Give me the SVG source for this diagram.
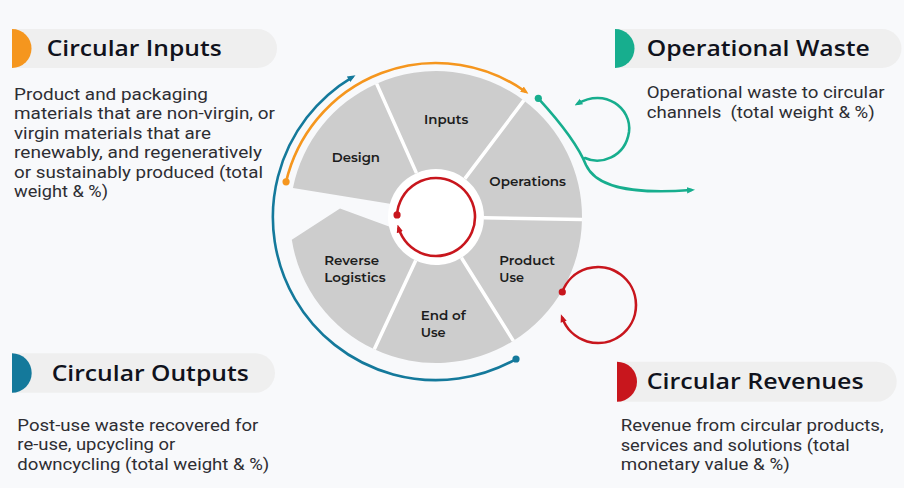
<svg xmlns="http://www.w3.org/2000/svg" width="904" height="488" viewBox="0 0 904 488">
<style>
.bg{fill:#f8f9fb}
.pill{fill:#efefef}
.hd{font-family:"Open Sans","Liberation Sans",sans-serif;font-weight:600;font-size:21px;fill:#10121c}
.bd{font-family:Roboto,"Open Sans","Liberation Sans",sans-serif;font-weight:400;font-size:16.5px;fill:#2e2e33}
.seg{fill:#cdcdcd}
.lb{font-family:"Montserrat","Open Sans","Liberation Sans",sans-serif;font-weight:600;font-size:13.5px;fill:#1c1c1c}
.gap{stroke:#ffffff;stroke-width:3.5;fill:none}
.arc{fill:none;stroke-width:2.6;stroke-linecap:round}
</style>
<defs>
<marker id="mO" viewBox="0 0 10 10" refX="5" refY="5" markerWidth="8" markerHeight="8" orient="auto" markerUnits="userSpaceOnUse"><path d="M0,1 L10,5 L0,9 z" fill="#f5961e"/></marker>
<marker id="mB" viewBox="0 0 10 10" refX="5" refY="5" markerWidth="8" markerHeight="8" orient="auto" markerUnits="userSpaceOnUse"><path d="M0,1 L10,5 L0,9 z" fill="#14799b"/></marker>
<marker id="mR" viewBox="0 0 10 10" refX="5" refY="5" markerWidth="8" markerHeight="8" orient="auto" markerUnits="userSpaceOnUse"><path d="M0,1 L10,5 L0,9 z" fill="#c8161d"/></marker>
<marker id="mT" viewBox="0 0 10 10" refX="5" refY="5" markerWidth="8" markerHeight="8" orient="auto" markerUnits="userSpaceOnUse"><path d="M0,1 L10,5 L0,9 z" fill="#17ae8e"/></marker>
</defs>
<rect class="bg" x="0" y="0" width="904" height="488"/>

<g id="circular-inputs">
<path class="pill" d="M12,29 H257.5 A19.5,19.5 0 0 1 257.5,68 H12 Z"/>
<path d="M12,29 A19.5,19.5 0 0 1 12,68 Z" fill="#f5961e"/>
<text class="hd" x="46.7" y="56" textLength="175" lengthAdjust="spacingAndGlyphs">Circular Inputs</text>
<text class="bd" x="14" y="100" textLength="194" lengthAdjust="spacingAndGlyphs">Product and packaging</text>
<text class="bd" x="14" y="119.3" textLength="261" lengthAdjust="spacingAndGlyphs">materials that are non-virgin, or</text>
<text class="bd" x="14" y="139" textLength="197" lengthAdjust="spacingAndGlyphs">virgin materials that are</text>
<text class="bd" x="14" y="158.2" textLength="248" lengthAdjust="spacingAndGlyphs">renewably, and regeneratively</text>
<text class="bd" x="14" y="177.6" textLength="249" lengthAdjust="spacingAndGlyphs">or sustainably produced (total</text>
<text class="bd" x="14" y="197" textLength="94" lengthAdjust="spacingAndGlyphs">weight &amp; %)</text>
</g>

<g id="operational-waste">
<path class="pill" d="M615,29 H882 A19.5,19.5 0 0 1 882,68 H615 Z"/>
<path d="M615,29 A19.5,19.5 0 0 1 615,68 Z" fill="#17ae8e"/>
<text class="hd" x="646.7" y="56" textLength="223" lengthAdjust="spacingAndGlyphs">Operational Waste</text>
<text class="bd" x="646.7" y="98.3" textLength="238" lengthAdjust="spacingAndGlyphs">Operational waste to circular</text>
<text class="bd" x="646.7" y="118.3" textLength="228" lengthAdjust="spacingAndGlyphs" xml:space="preserve">channels  (total weight &amp; %)</text>
</g>

<g id="circular-outputs">
<path class="pill" d="M12,353.3 H255.3 A19.7,19.7 0 0 1 255.3,392.7 H12 Z"/>
<path d="M12,353.3 A19.7,19.7 0 0 1 12,392.7 Z" fill="#14799b"/>
<text class="hd" x="51.7" y="380.7" textLength="197" lengthAdjust="spacingAndGlyphs">Circular Outputs</text>
<text class="bd" x="17.3" y="430.7" textLength="241" lengthAdjust="spacingAndGlyphs">Post-use waste recovered for</text>
<text class="bd" x="17.3" y="450.3" textLength="158" lengthAdjust="spacingAndGlyphs">re-use, upcycling or</text>
<text class="bd" x="17.3" y="470" textLength="252" lengthAdjust="spacingAndGlyphs">downcycling (total weight &amp; %)</text>
</g>

<g id="circular-revenues">
<path class="pill" d="M617,361.7 H876.7 A20,20 0 0 1 876.7,401.7 H617 Z"/>
<path d="M617,361.7 A20,20 0 0 1 617,401.7 Z" fill="#c8161d"/>
<text class="hd" x="646.7" y="389.3" textLength="217" lengthAdjust="spacingAndGlyphs">Circular Revenues</text>
<text class="bd" x="620.7" y="431.2" textLength="263" lengthAdjust="spacingAndGlyphs">Revenue from circular products,</text>
<text class="bd" x="620.7" y="450.6" textLength="229" lengthAdjust="spacingAndGlyphs">services and solutions (total</text>
<text class="bd" x="620.7" y="470" textLength="169" lengthAdjust="spacingAndGlyphs">monetary value &amp; %)</text>
</g>

<g id="wheel">
<circle cx="436" cy="217" r="48" fill="#ffffff"/>
<g id="design">
<path class="seg" d="M292.93,187.89 A146,146 0 0 1 376.62,83.63 L416.48,173.15 A48,48 0 0 0 389.86,203.77 Z"/>
<text class="lb" x="331.7" y="161.7" textLength="48.3" lengthAdjust="spacingAndGlyphs">Design</text>
</g>
<g id="inputs">
<path class="seg" d="M376.62,83.63 A146,146 0 0 1 523.86,100.40 L464.89,178.67 A48,48 0 0 0 416.48,173.15 Z"/>
<text class="lb" x="424" y="124" textLength="44.3" lengthAdjust="spacingAndGlyphs">Inputs</text>
</g>
<g id="operations">
<path class="seg" d="M523.86,100.40 A146,146 0 0 1 581.98,219.55 L483.99,217.84 A48,48 0 0 0 464.89,178.67 Z"/>
<text class="lb" x="489.3" y="186" textLength="76.7" lengthAdjust="spacingAndGlyphs">Operations</text>
</g>
<g id="product-use">
<path class="seg" d="M581.98,219.55 A146,146 0 0 1 513.37,340.81 L461.44,257.70 A48,48 0 0 0 483.99,217.84 Z"/>
<text class="lb" x="499.3" y="265" textLength="55.7" lengthAdjust="spacingAndGlyphs">Product</text>
<text class="lb" x="499.3" y="281.7" textLength="24.7" lengthAdjust="spacingAndGlyphs">Use</text>
</g>
<g id="end-of-use">
<path class="seg" d="M513.37,340.81 A146,146 0 0 1 374.30,349.32 L415.72,260.50 A48,48 0 0 0 461.44,257.70 Z"/>
<text class="lb" x="420.7" y="319.5" textLength="45" lengthAdjust="spacingAndGlyphs">End of</text>
<text class="lb" x="420.7" y="336.5" textLength="25" lengthAdjust="spacingAndGlyphs">Use</text>
</g>
<g id="reverse-logistics">
<path class="seg" d="M374.30,349.32 A146,146 0 0 1 291.80,239.84 L340,208.5 L388.96,226.57 A48,48 0 0 0 415.72,260.50 Z"/>
<text class="lb" x="324.3" y="265" textLength="54.7" lengthAdjust="spacingAndGlyphs">Reverse</text>
<text class="lb" x="324.3" y="281.7" textLength="61.3" lengthAdjust="spacingAndGlyphs">Logistics</text>
</g>
<g id="gaps">
<path class="gap" d="M376.62,83.63 L416.48,173.15 M523.86,100.40 L464.89,178.67 M581.98,219.55 L483.99,217.84 M513.37,340.81 L461.44,257.70 M374.30,349.32 L415.72,260.50"/>
</g>
</g>

<g id="connectors">
<path class="arc" stroke="#14799b" d="M516.02,359.01 A163,163 0 0 1 352.05,77.28" marker-end="url(#mB)"/>
<circle cx="516.02" cy="359.01" r="3.6" fill="#14799b"/>
<path class="arc" stroke="#f5961e" d="M286.07,181.83 A154,154 0 0 1 525.21,91.48" marker-end="url(#mO)"/>
<circle cx="286.07" cy="181.83" r="3.6" fill="#f5961e"/>
<path class="arc" stroke="#c8161d" d="M397.05,214.96 A39,39 0 1 1 398.70,228.40" marker-end="url(#mR)"/>
<circle cx="397.05" cy="214.96" r="3.6" fill="#c8161d"/>
<path class="arc" stroke="#c8161d" d="M562.29,292.00 A38,38 0 1 1 562.29,318.00" marker-end="url(#mR)"/>
<circle cx="562.29" cy="292.00" r="3.6" fill="#c8161d"/>
<path class="arc" stroke="#17ae8e" d="M538.3,98.3 C560,122 578,145 586,165 C595,185 625,195 691,190" marker-end="url(#mT)"/>
<path class="arc" stroke="#17ae8e" d="M585,158 C600,165 625,158 629,132 C632,108 605,88 578,103.5" marker-end="url(#mT)"/>
<circle cx="538.3" cy="98.3" r="3.6" fill="#17ae8e"/>
</g>
</svg>
